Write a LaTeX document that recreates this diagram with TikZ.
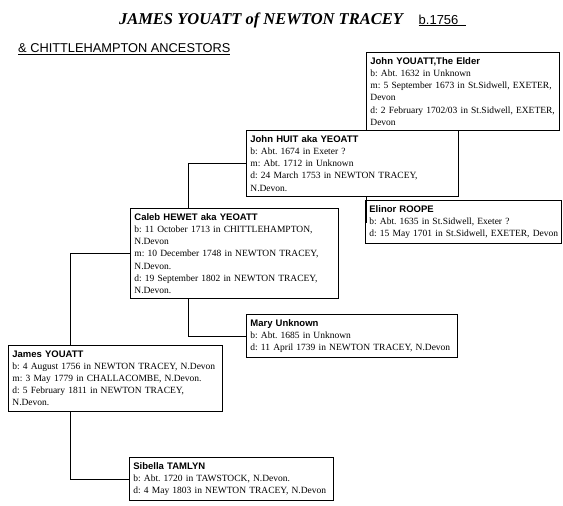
\documentclass[tikz,border=0pt]{standalone}
\usepackage{fontspec}
\setmainfont{Liberation Serif}
\setsansfont{Liberation Sans}
\usepackage{tikz}
\usetikzlibrary{positioning}
\frenchspacing
\tikzset{
  person/.style={draw, line width=0.8pt, anchor=north west, align=left,
    inner xsep=4pt, inner ysep=5pt, font=\fontsize{9.5}{12.2}\selectfont},
  link/.style={line width=0.8pt},
}
\newcommand{\who}[1]{{\sffamily\bfseries #1}}

\begin{document}
\begin{tikzpicture}[x=1pt,y=-1pt]
\useasboundingbox (0,0) rectangle (563,506);
%
\node[font=\bfseries\itshape\fontsize{16.5}{18}\selectfont] (title) at (261,20) {JAMES YOUATT of NEWTON TRACEY};
\node[anchor=base west, inner sep=0pt, font=\sffamily\fontsize{13}{15}\selectfont] (born) at ([xshift=12pt]title.base east) {\underline{b.1756\ \ }};
\node[anchor=west, inner sep=0pt, font=\sffamily\fontsize{12.8}{15}\selectfont] (sub) at (18,49) {\underline{\& CHITTLEHAMPTON ANCESTORS}};
%
\node[person, text width=185pt] (jy) at (366,52) {\who{John YOUATT,The Elder}\\
b: Abt. 1632 in Unknown\\
m: 5 September 1673 in St.Sidwell, EXETER,\\
Devon\\
d: 2 February 1702/03 in St.Sidwell, EXETER,\\
Devon};
\node[person, text width=204pt] (jh) at (246,130) {\who{John HUIT aka YEOATT}\\
b: Abt. 1674 in Exeter ?\\
m: Abt. 1712 in Unknown\\
d: 24 March 1753 in NEWTON TRACEY,\\
N.Devon.};
\node[person, text width=188pt] (elinor) at (365,200) {\who{Elinor ROOPE}\\
b: Abt. 1635 in St.Sidwell, Exeter ?\\
\mbox{d: 15 May 1701 in St.Sidwell, EXETER, Devon}};
\node[person, text width=200pt] (caleb) at (130,208) {\who{Caleb HEWET aka YEOATT}\\
b: 11 October 1713 in CHITTLEHAMPTON,\\
N.Devon\\
m: 10 December 1748 in NEWTON TRACEY,\\
N.Devon.\\
d: 19 September 1802 in NEWTON TRACEY,\\
N.Devon.};
\node[person, text width=203pt] (mary) at (246,314) {\who{Mary Unknown}\\
b: Abt. 1685 in Unknown\\
d: 11 April 1739 in NEWTON TRACEY, N.Devon};
\node[person, text width=206pt] (james) at (8,345) {\who{James YOUATT}\\
b: 4 August 1756 in NEWTON TRACEY, N.Devon\\
m: 3 May 1779 in CHALLACOMBE, N.Devon.\\
d: 5 February 1811 in NEWTON TRACEY,\\
N.Devon.};
\node[person, text width=196pt] (sibella) at (129,457) {\who{Sibella TAMLYN}\\
b: Abt. 1720 in TAWSTOCK, N.Devon.\\
d: 4 May 1803 in NEWTON TRACEY, N.Devon};
%
\draw[link] ([xshift=62pt]james.north west) |- (caleb.west);
\draw[link] ([xshift=62pt]james.south west) |- (sibella.west);
\draw[link] ([xshift=58pt]caleb.north west) |- (jh.west);
\draw[link] ([xshift=58pt]caleb.south west) |- (mary.west);
\draw[link] ([xshift=120pt]jh.north west) |- (jy.west);
\draw[link] ([xshift=120pt]jh.south west) |- (elinor.west);
%
\end{tikzpicture}
\end{document}
